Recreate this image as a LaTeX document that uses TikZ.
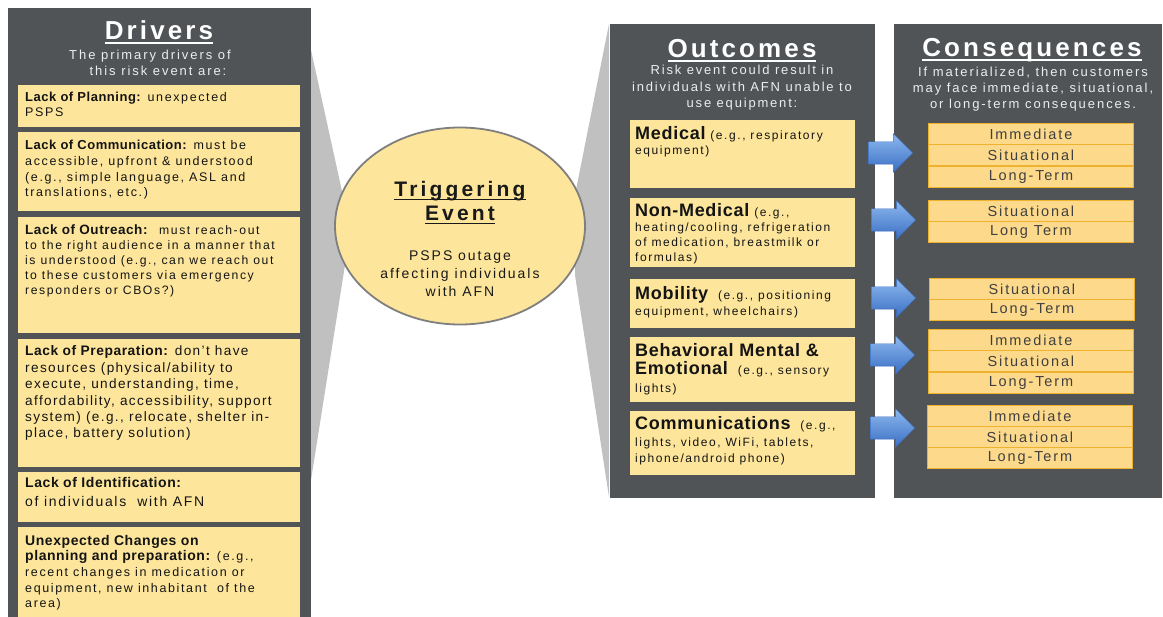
\documentclass[tikz,border=0pt]{standalone}
\usepackage{fontspec}
\setmainfont{Liberation Sans}
\newfontfamily\fN{Liberation Sans}[LetterSpace=13]
\newfontfamily\fB{Liberation Sans}[LetterSpace=4]
\newfontfamily\fT{Liberation Sans}[LetterSpace=12]
\newfontfamily\fE{Liberation Sans}[LetterSpace=15]
\usetikzlibrary{shapes.arrows,shapes.geometric}
\definecolor{panelc}{HTML}{505457}
\definecolor{wedgec}{HTML}{C0C0C0}
\definecolor{yboxc}{HTML}{FDE69B}
\definecolor{cfillc}{HTML}{FCD98B}
\definecolor{clinec}{HTML}{EFB22E}
\definecolor{ctextc}{HTML}{404040}
\definecolor{subc}{HTML}{EDEDED}
\definecolor{ellc}{HTML}{7F7F7F}
\definecolor{arrtop}{HTML}{8DB8EE}
\definecolor{arrbot}{HTML}{3A6FC4}
\newcommand\bh[2]{{\fontsize{#1}{#1}\selectfont\fB\bfseries #2}}
\newcommand\myul[2]{\setbox0=\hbox{#1}\rlap{\rule[-#2]{\wd0}{1.8pt}}\box0}
\tikzset{
 pnl/.style={fill=panelc, draw=none, anchor=north west, inner sep=0},
 ybx/.style={fill=yboxc, draw=none, anchor=north west, inner sep=0, minimum width=#1},
 dtxt/.style={anchor=base west, align=left, inner sep=0, text=black!92, font=\fontsize{12.5}{15.7}\selectfont\fN},
 otxt/.style={anchor=base west, align=left, inner sep=0, text=black!92, font=\fontsize{12}{15}\selectfont\fN},
 ttl/.style={anchor=base, inner sep=0, text=white, font=\fontsize{26}{28}\selectfont\fT\bfseries},
 subt/.style={anchor=base, inner sep=0, text=subc, align=center, font=\fontsize{13}{16.5}\selectfont\fN},
 cbx/.style={fill=cfillc, draw=clinec, line width=0.9pt, anchor=north west, minimum width=205, minimum height=21, inner sep=0, text=ctextc, font=\fontsize{14.5}{16}\selectfont\fN},
 barr/.style={single arrow, single arrow head extend=8pt, inner xsep=0pt, inner ysep=11pt, minimum height=44pt, minimum width=38pt, top color=arrtop, bottom color=arrbot, draw=arrbot, line width=0.4pt, anchor=center}
}
\begin{document}
\begin{tikzpicture}[x=1pt,y=-1pt]
\useasboundingbox (0,0) rectangle (1163,617);
\fill[white] (0,0) rectangle (1163,617);
% wedges
\fill[wedgec] (311,50) -- (345,205) -- (345,265) -- (311,480) -- cycle;
\fill[wedgec] (609,24) -- (575,195) -- (575,275) -- (609,497) -- cycle;
% panels
\node[pnl, minimum width=303, minimum height=609] (pdrv) at (8,8) {};
\node[pnl, minimum width=265, minimum height=474] (pout) at (610,24) {};
\node[pnl, minimum width=268, minimum height=474] (pcon) at (894,24) {};
% Drivers
\node[ttl] (tdrv) at (159,40) {\myul{Drivers}{4pt}};
\node[subt, font=\fontsize{13}{16.5}\selectfont\addfontfeature{LetterSpace=15}] (sdrv1) at (150,60) {The primary drivers of};
\node[subt, font=\fontsize{13}{16.5}\selectfont\addfontfeature{LetterSpace=15}] (sdrv2) at (158,76) {this risk event are:};

\node[ybx=282, minimum height=42] (d1) at (18,85) {};
\node[ybx=282, minimum height=79] (d2) at (18,132) {};
\node[ybx=282, minimum height=116] (d3) at (18,217) {};
\node[ybx=282, minimum height=128] (d4) at (18,339) {};
\node[ybx=282, minimum height=50] (d5) at (18,472) {};
\node[ybx=282, minimum height=92] (d6) at (18,527) {};

\node[dtxt] (t1) at (25,117) {\bh{13}{Lack of Planning:} unexpected\\PSPS};
\node[dtxt] (t2) at (25,197) {\bh{13}{Lack of Communication:} must be\\accessible, upfront \& understood\\(e.g., simple language, ASL and\\translations, etc.)};
\node[dtxt, font=\fontsize{12.2}{15.1}\selectfont\fN] (t3) at (25,295) {\bh{13.5}{Lack of Outreach:} \ must reach-out\\to the right audience in a manner that\\is understood (e.g., can we reach out\\to these customers via emergency\\responders or CBOs?)};
\node[dtxt, font=\fontsize{13.6}{16.4}\selectfont\addfontfeature{LetterSpace=10}] (t4) at (25,438) {\bh{13.8}{Lack of Preparation:} don't have\\resources (physical/ability to\\execute, understanding, time,\\affordability, accessibility, support\\system) (e.g., relocate, shelter in-\\place, battery solution)};
\node[dtxt, font=\fontsize{14}{19}\selectfont\addfontfeature{LetterSpace=12}] (t5) at (25,507) {\bh{14}{Lack of Identification:}\\of individuals \ with AFN};
\node[dtxt, font=\fontsize{12.5}{15.7}\selectfont\fN] (t6) at (25,608) {\bh{14}{Unexpected Changes on}\\\bh{14}{planning and preparation:} (e.g.,\\recent changes in medication or\\equipment, new inhabitant \ of the\\area)};

% Triggering event
\node[ellipse, draw=ellc, line width=1.8pt, fill=yboxc, minimum width=250, minimum height=197, inner sep=0] (te) at (460,226) {};
\node[anchor=base, inner sep=0, font=\fontsize{21}{24}\selectfont\fE\bfseries, text=black!90] (te1) at (460,197) {\myul{Triggering}{3.5pt}};
\node[anchor=base, inner sep=0, font=\fontsize{21}{24}\selectfont\fE\bfseries, text=black!90] (te2) at (460,221) {\myul{Event}{3.5pt}};
\node[anchor=base, inner sep=0, align=center, font=\fontsize{14}{18}\selectfont\addfontfeature{LetterSpace=14}, text=black!90] (te3) at (460,297) {PSPS outage\\affecting individuals\\with AFN};

% Outcomes
\node[ttl] (tout) at (742,58) {\myul{Outcomes}{4pt}};
\node[subt, font=\fontsize{13}{16.7}\selectfont\addfontfeature{LetterSpace=14}] (sout) at (742,108) {Risk event could result in\\individuals with AFN unable to\\use equipment:};

\node[ybx=225, minimum height=68] (o1) at (630,120) {};
\node[ybx=225, minimum height=69] (o2) at (630,198) {};
\node[ybx=225, minimum height=49] (o3) at (630,279) {};
\node[ybx=225, minimum height=65] (o4) at (630,337) {};
\node[ybx=225, minimum height=64] (o5) at (630,411) {};

\node[otxt] (ot1) at (635,155) {\bh{18}{Medical} (e.g., respiratory\\equipment)};
\node[otxt] (ot2) at (635,262) {\bh{18}{Non-Medical} (e.g.,\\heating/cooling, refrigeration\\of medication, breastmilk or\\formulas)};
\node[otxt, font=\fontsize{12}{16}\selectfont\fN] (ot3) at (635,316) {\bh{18}{Mobility} \ (e.g., positioning\\equipment, wheelchairs)};
\node[otxt, font=\fontsize{12}{18}\selectfont\fN] (ot4) at (635,393) {\bh{18}{Behavioral Mental \&}\\\bh{18}{Emotional} \ (e.g., sensory\\lights)};
\node[otxt, font=\fontsize{12}{16.5}\selectfont\fN] (ot5) at (635,463) {\bh{18}{Communications} \ (e.g.,\\lights, video, WiFi, tablets,\\iphone/android phone)};

% Consequences
\node[ttl] (tcon) at (1032,57) {\myul{Consequences}{4pt}};
\node[subt, font=\fontsize{13}{16.2}\selectfont\addfontfeature{LetterSpace=15}] (scon) at (1033,109) {If materialized, then customers\\may face immediate, situational,\\or long-term consequences.};

\node[cbx] (c11) at (928,123) {Immediate};
\node[cbx] (c12) at (928,144) {Situational};
\node[cbx] (c13) at (928,166) {Long-Term};
\node[cbx] (c21) at (928,200) {Situational};
\node[cbx] (c22) at (928,221) {Long Term};
\node[cbx] (c31) at (929,278) {Situational};
\node[cbx] (c32) at (929,299) {Long-Term};
\node[cbx] (c41) at (928,329) {Immediate};
\node[cbx] (c42) at (928,350) {Situational};
\node[cbx] (c43) at (928,372) {Long-Term};
\node[cbx] (c51) at (927,405) {Immediate};
\node[cbx] (c52) at (927,426) {Situational};
\node[cbx] (c53) at (927,447) {Long-Term};

% arrows
\node[barr] (a1) at (885,153) {};
\node[barr] (a2) at (888,220) {};
\node[barr] (a3) at (888,298) {};
\node[barr] (a4) at (887,355) {};
\node[barr] (a5) at (887,428) {};
\end{tikzpicture}
\end{document}
